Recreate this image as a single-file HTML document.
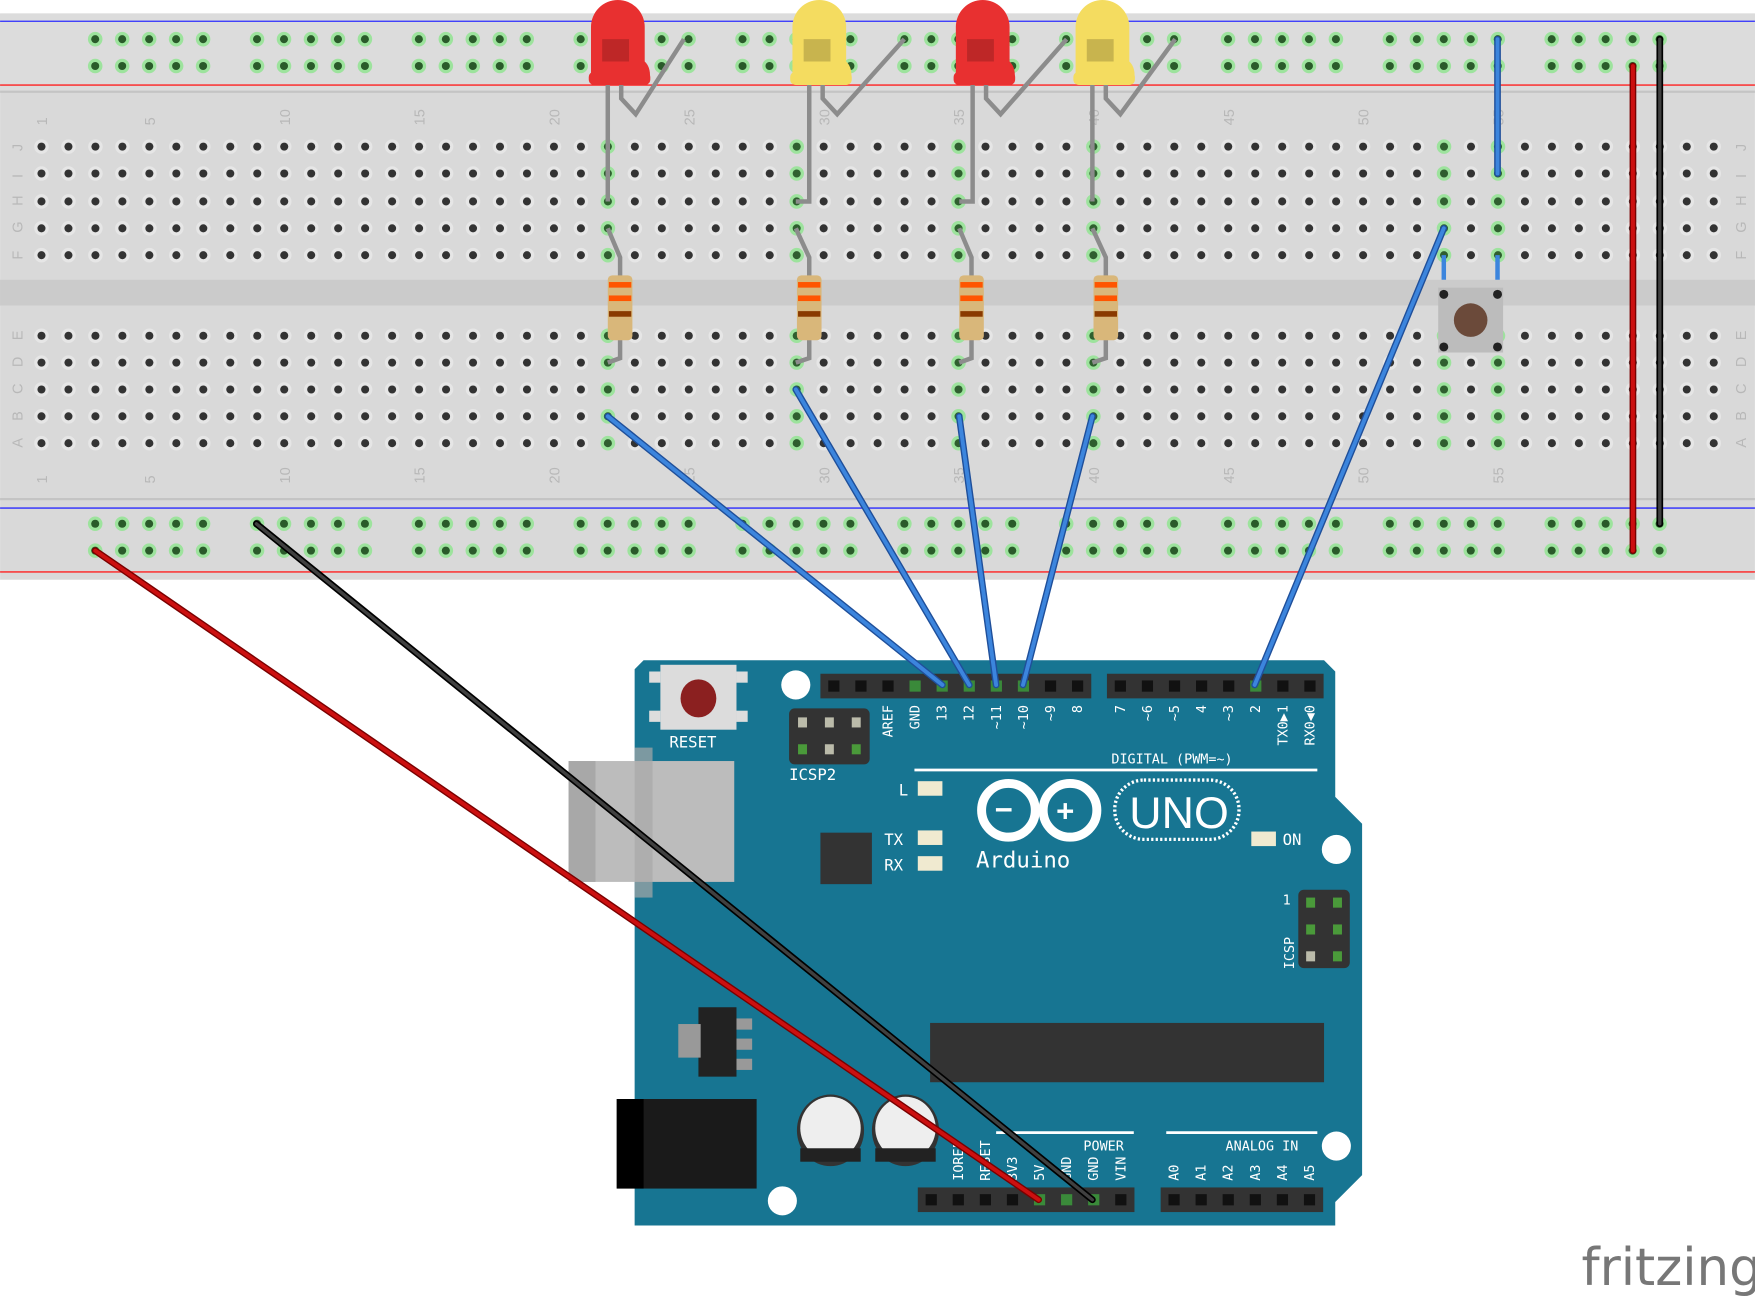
<!DOCTYPE html>
<html><head><meta charset="utf-8"><style>
html,body{margin:0;padding:0;background:#fff;}
svg{display:block;font-family:"DejaVu Sans Mono","Liberation Mono",monospace;}
</style></head><body>
<svg id="s" width="1755" height="1296" viewBox="0 0 1568 1158" xmlns="http://www.w3.org/2000/svg">
<rect x="0" y="12" width="1568" height="506" fill="#d9d9d9"/>
<rect x="0" y="12" width="1568" height="70" fill="#dcdcdc"/>
<line x1="0" y1="19" x2="1568" y2="19" stroke="#2b2bff" stroke-width="1.2"/>
<line x1="0" y1="76" x2="1568" y2="76" stroke="#ff2020" stroke-width="1.2"/>
<line x1="0" y1="82" x2="1568" y2="82" stroke="#c4c4c4" stroke-width="2"/>
<rect x="0" y="250" width="1568" height="23" fill="#cbcbcb"/>
<line x1="0" y1="446" x2="1568" y2="446" stroke="#c4c4c4" stroke-width="2"/>
<line x1="0" y1="454" x2="1568" y2="454" stroke="#2b2bff" stroke-width="1.2"/>
<line x1="0" y1="511" x2="1568" y2="511" stroke="#ff2020" stroke-width="1.2"/>
<g id="holes"></g>
<g id="labels" fill="#b8b8b8" font-size="13" font-family="Liberation Sans,sans-serif"></g>
<path d="M575,590 H1183 L1193,600 V712 L1217,736 V1050 L1193,1074 V1095 H567 V598 Z" fill="#177592"/>
<circle cx="711" cy="612" r="13" fill="#fff"/>
<circle cx="1194" cy="759" r="13" fill="#fff"/>
<circle cx="1194" cy="1024" r="13" fill="#fff"/>
<circle cx="699" cy="1073" r="13" fill="#fff"/>
<rect x="590" y="594" width="68" height="58" fill="#dcdcdc"/>
<rect x="580" y="600" width="10" height="10" fill="#ddd"/><rect x="580" y="635" width="10" height="10" fill="#ddd"/>
<rect x="658" y="600" width="10" height="10" fill="#ddd"/><rect x="658" y="635" width="10" height="10" fill="#ddd"/>
<ellipse cx="624" cy="624" rx="16" ry="17" fill="#8b2020"/>
<text x="598" y="668" font-size="14" fill="#fff">RESET</text>
<rect x="705" y="633" width="72" height="50" rx="5" fill="#333"/>
<text x="705" y="697" font-size="14" fill="#fff">ICSP2</text>
<rect x="508" y="680" width="148" height="108" fill="#bcbcbc"/><rect x="508" y="680" width="24" height="108" fill="#a8a8a8"/>
<rect x="567" y="668" width="16" height="134" fill="#a8a8a8" opacity="0.7"/>
<rect x="733" y="744" width="46" height="46" fill="#333"/>
<text x="803" y="711" font-size="14" fill="#fff">L</text>
<text x="790" y="755" font-size="14" fill="#fff">TX</text>
<text x="790" y="778" font-size="14" fill="#fff">RX</text>
<rect x="820" y="698" width="22" height="13" fill="#f0ead0"/><rect x="820" y="742" width="22" height="13" fill="#f0ead0"/><rect x="820" y="765" width="22" height="13" fill="#f0ead0"/>
<rect x="1118" y="743" width="22" height="13" fill="#f0ead0"/>
<text x="1146" y="755" font-size="14" fill="#fff">ON</text>
<line x1="817" y1="688" x2="1177" y2="688" stroke="#fff" stroke-width="2.5"/>
<text x="993" y="682" font-size="12" fill="#fff">DIGITAL (PWM=~)</text>
<g fill="none" stroke="#fff" stroke-width="8"><circle cx="901" cy="724" r="24"/><circle cx="956" cy="724" r="24"/></g>
<text x="889" y="732" font-size="26" fill="#fff" font-weight="bold">−</text><text x="944" y="733" font-size="26" fill="#fff" font-weight="bold">+</text>
<rect x="996" y="697" width="111" height="53" rx="26" fill="none" stroke="#fff" stroke-width="3" stroke-dasharray="2 2"/>
<text x="1009" y="740" font-size="40" fill="#fff" font-family="Liberation Sans,sans-serif">UNO</text>
<text x="872" y="775" font-size="20" fill="#fff">Arduino</text>
<rect x="1160" y="795" width="46" height="70" rx="5" fill="#333"/>
<text x="1146" y="808" font-size="12" fill="#fff">1</text>
<text x="1156" y="866" font-size="12" fill="#fff" transform="rotate(-90 1156 866)">ICSP</text>
<rect x="831" y="914" width="352" height="53" fill="#333"/>
<rect x="624" y="900" width="34" height="62" fill="#222"/><rect x="606" y="915" width="20" height="30" fill="#999"/>
<rect x="658" y="910" width="14" height="10" fill="#999"/><rect x="658" y="928" width="14" height="10" fill="#999"/><rect x="658" y="946" width="14" height="10" fill="#999"/>
<rect x="551" y="982" width="125" height="80" fill="#1a1a1a"/><rect x="551" y="982" width="24" height="80" fill="#000"/>
<g><ellipse cx="742" cy="1010" rx="30" ry="32" fill="#333"/><ellipse cx="742" cy="1008" rx="27" ry="28" fill="#eee"/><rect x="715" y="1026" width="54" height="12" fill="#222"/></g>
<g><ellipse cx="809" cy="1010" rx="30" ry="32" fill="#333"/><ellipse cx="809" cy="1008" rx="27" ry="28" fill="#eee"/><rect x="782" y="1026" width="54" height="12" fill="#222"/></g>
<line x1="890" y1="1012" x2="1013" y2="1012" stroke="#fff" stroke-width="2.5"/>
<line x1="1042" y1="1012" x2="1177" y2="1012" stroke="#fff" stroke-width="2.5"/>
<text x="968" y="1028" font-size="12" fill="#fff">POWER</text>
<text x="1095" y="1028" font-size="12" fill="#fff">ANALOG IN</text>
<g id="ard"></g>
<g id="leds"></g>
<g stroke-linecap="round" fill="none">
<g stroke="#1f4f9a" stroke-width="6">
<path d="M543,372 L842,612 M711,348 L866,612 M857,372 L890,612 M976,372 L914,612 M1290,204 L1121,612 M1338,35 V155"/></g>
<g stroke="#3c85dd" stroke-width="3.5">
<path d="M543,372 L842,612 M711,348 L866,612 M857,372 L890,612 M976,372 L914,612 M1290,204 L1121,612 M1338,35 V155"/></g>
<path d="M1459,59 V492 M85,492 L928,1072" stroke="#7a0000" stroke-width="6"/>
<path d="M1459,59 V492 M85,492 L928,1072" stroke="#cc1010" stroke-width="3.5"/>
<path d="M1483,35 V468 M229,468 L976,1072" stroke="#000" stroke-width="6"/>
<path d="M1483,35 V468 M229,468 L976,1072" stroke="#404040" stroke-width="3"/>
</g>
<text x="1413" y="1148" font-size="46" fill="#777" font-family="DejaVu Sans,sans-serif">fritzing</text>
</svg>
<script>
var NS="http://www.w3.org/2000/svg",s=document.getElementById('s');
function el(p,t,a){var e=document.createElementNS(NS,t);for(var k in a)e.setAttribute(k,a[k]);p.appendChild(e);return e;}
var H=document.getElementById('holes');
var green={22:1,29:1,35:1,40:1,53:1,55:1};
function cx(c){return 37+(c-1)*24.1;}
var rows=[131,155,180,204,228,300,324,348,372,396];
for(var c=1;c<=63;c++){for(var r=0;r<10;r++){var x=cx(c),y=rows[r];
 var g=green[c];
 el(H,'circle',{cx:x,cy:y,r:6.5,fill:g?'#9de39d':'#e6e6e6'});
 el(H,'circle',{cx:x,cy:y,r:3.6,fill:g?'#2f5f2f':'#333'});}}
for(var k=0;k<10;k++)for(var i=0;i<5;i++){var x=85+k*144.6+i*24.1;
 [35,59,468,492].forEach(function(y){el(H,'circle',{cx:x,cy:y,r:6.5,fill:'#9de39d'});el(H,'circle',{cx:x,cy:y,r:3.6,fill:'#2a5a2a'});});}
var L=document.getElementById('labels');
[1,5,10,15,20,25,30,35,40,45,50,55].forEach(function(n){var x=cx(n)+5;
 [112,432].forEach(function(y){var t=el(L,'text',{x:x,y:y,transform:'rotate(-90 '+x+' '+y+')'});t.textContent=n;});});
var letters="JIHGFEDCBA";
for(var r=0;r<10;r++){[16,1556].forEach(function(x){var y=rows[r]+4;var t=el(L,'text',{x:x-4,y:y,transform:'rotate(-90 '+x+' '+(y-4)+')'});t.textContent=letters[r];});}
[[543,554],[711,723],[857,868],[976,988]].forEach(function(p){
 el(H,'path',{d:'M'+p[0]+',204 L'+p[1]+',230 V320 L'+p[0]+',324',stroke:'#8c8c8c','stroke-width':4,fill:'none'});
 el(H,'rect',{x:p[1]-11,y:246,width:22,height:58,rx:4,fill:'#d9b77a'});
 [[252,'#ff5500'],[264,'#ff5500'],[278,'#8a3a00']].forEach(function(b){el(H,'rect',{x:p[1]-10,y:b[0],width:20,height:5,fill:b[1]});});
});
var Ld=document.getElementById('leds');
[[552,'#e83030',543,611],[732,'#f4dc60',711,808],[878,'#e83030',857,953],[985,'#f4dc60',976,1050]].forEach(function(l){
 var x=l[0];
 el(Ld,'path',{d:'M'+(x-9)+',75 V180 L'+l[2]+',180',stroke:'#8c8c8c','stroke-width':4,fill:'none'});
 el(Ld,'path',{d:'M'+(x+3)+',75 V88 L'+(x+16)+',102 L'+l[3]+',35',stroke:'#8c8c8c','stroke-width':4,fill:'none'});
 el(Ld,'path',{d:'M'+(x-24)+',72 V24 A24,24 0 0 1 '+(x+24)+',24 V55 A10,14 0 0 1 '+(x+28)+',72 Z',fill:l[1]});
 el(Ld,'rect',{x:x-26,y:64,width:55,height:12,rx:5,fill:l[1]});
 el(Ld,'path',{d:'M'+(x-14)+',35 H'+(x+10)+' V55 H'+(x-14)+' Z',fill:'#000',opacity:0.18});
});
el(Ld,'rect',{x:1285,y:257,width:58,height:58,fill:'#bcbcbc'});
el(Ld,'circle',{cx:1314,cy:286,r:15,fill:'#6b4a3a'});
[[1290,263],[1338,263],[1290,310],[1338,310]].forEach(function(p){el(Ld,'circle',{cx:p[0],cy:p[1],r:4,fill:'#222'});});
el(Ld,'path',{d:'M1290,228 V250 M1338,228 V250',stroke:'#3c85dd','stroke-width':4});
var A=document.getElementById('ard');
function header(x0,y,n,hl){el(A,'rect',{x:x0,y:y,width:n*24.2,height:22,fill:'#333'});
 for(var i=0;i<n;i++){var x=x0+12+i*24.2;el(A,'rect',{x:x-5,y:y+6,width:10,height:10,fill:hl.indexOf(i)>=0?'#3a8a3a':'#111'});}}
header(733,602,10,[3,4,5,6,7]);header(989,602,8,[5]);header(820,1061,8,[4,5,6]);header(1037,1061,6,[]);
function vlabels(x0,y,list,anc){list.forEach(function(t,i){if(!t)return;var x=x0+16+i*24.2;var e=el(A,'text',{x:x,y:y,'font-size':12,fill:'#fff',transform:'rotate(-90 '+x+' '+y+')','text-anchor':anc});e.textContent=t;});}
vlabels(733,630,['','','AREF','GND','13','12','~11','~10','~9','8'],'end');
vlabels(989,630,['7','~6','~5','4','~3','2','TX0▶1','RX0◀0'],'end');
vlabels(820,1055,['','IOREF','RESET','3V3','5V','GND','GND','VIN'],'start');
vlabels(1037,1055,['A0','A1','A2','A3','A4','A5'],'start');
[[717,645],[741,645],[765,645],[717,669],[741,669],[765,669]].forEach(function(p,i){el(A,'rect',{x:p[0]-4,y:p[1]-4,width:8,height:9,fill:(i==3||i==5)?'#4a9a3a':'#bba'});});
[[1171,806],[1195,806],[1171,830],[1195,830],[1171,854],[1195,854]].forEach(function(p,i){el(A,'rect',{x:p[0]-4,y:p[1]-4,width:8,height:9,fill:i==4?'#bba':'#4a9a3a'});});
</script>
</body></html>
